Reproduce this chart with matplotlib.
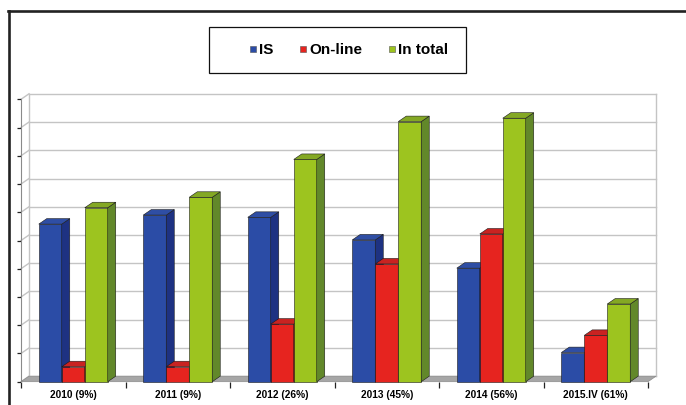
import matplotlib.pyplot as plt
from matplotlib.patches import Polygon, Rectangle
from matplotlib.lines import Line2D

# values, in gridline units (axis has no numbers)
categories = ["2010 (9%)", "2011 (9%)", "2012 (26%)", "2013 (45%)", "2014 (56%)", "2015.IV (61%)"]
series_names = ["IS", "On-line", "In total"]
is_vals = [5.58, 5.90, 5.82, 5.02, 4.02, 1.03]
online_vals = [0.53, 0.53, 2.04, 4.17, 5.23, 1.64]
total_vals = [6.16, 6.53, 7.87, 9.21, 9.33, 2.75]

# front / side / top shades
colors = [
    ("#2b4ca6", "#1e3282", "#2f4ea4"),
    ("#e6241f", "#a81b1b", "#c92321"),
    ("#9dc41f", "#62882a", "#84a824"),
]

W, H = 686, 405
fig = plt.figure(figsize=(W / 100, H / 100), dpi=100)
fig.patch.set_facecolor("white")

# front plane of the 3d box in pixels
x0, x1 = 21, 648
y0, y1 = 381.7, 99.3
ax = fig.add_axes([x0 / W, 1 - y0 / H, (x1 - x0) / W, (y0 - y1) / H])
ax.set_xlim(0, 6)
ax.set_ylim(0, 10)
ax.set_facecolor("none")

# depth offset in data units
dx = 8 / ((x1 - x0) / 6)
dy = 5.5 / ((y0 - y1) / 10)

grid_c = "#c4c4c4"
for v in range(0, 11):
    ax.plot([dx, 6 + dx], [v + dy, v + dy], color=grid_c, lw=1.0, clip_on=False, zorder=1)
    ax.plot([0, dx], [v, v + dy], color=grid_c, lw=1.0, clip_on=False, zorder=1)
ax.plot([dx, dx], [dy, 10 + dy], color=grid_c, lw=1.0, clip_on=False, zorder=1)
ax.plot([6 + dx, 6 + dx], [dy, 10 + dy], color=grid_c, lw=1.0, clip_on=False, zorder=1)

# floor
ax.add_patch(Polygon([(0, 0), (6, 0), (6 + dx, dy), (dx, dy)], closed=True,
                     facecolor="#a6a6a6", edgecolor="#8c8c8c", lw=0.5, clip_on=False, zorder=2))

# bars
bw = 0.22
all_vals = [is_vals, online_vals, total_vals]
for i in range(len(categories)):
    for j, vals in enumerate(all_vals):
        h = vals[i]
        left = i + 0.5 - 1.5 * bw + j * bw
        right = left + bw
        front, side, top = colors[j]
        kw = dict(closed=True, edgecolor="#1a1a1a", lw=0.4, clip_on=False, zorder=3)
        ax.add_patch(Polygon([(left, 0), (right, 0), (right, h), (left, h)], facecolor=front, **kw))
        ax.add_patch(Polygon([(right, 0), (right + dx, dy), (right + dx, h + dy), (right, h)],
                             facecolor=side, **kw))
        ax.add_patch(Polygon([(left, h), (right, h), (right + dx, h + dy), (left + dx, h + dy)],
                             facecolor=top, **kw))

# axes
for s in ["top", "right", "bottom"]:
    ax.spines[s].set_visible(False)
ax.spines["left"].set_color("#8a8a8a")
ax.spines["left"].set_linewidth(0.8)
ax.set_yticks(range(0, 11))
ax.set_yticklabels([])
ax.tick_params(axis="y", direction="out", length=3, width=0.9, color="#222222")
ax.set_xticks(range(0, 7))
ax.set_xticklabels([])
ax.tick_params(axis="x", which="major", direction="out", length=4, width=0.9, color="#222222")
ax.set_xticks([i + 0.5 for i in range(6)], minor=True)
ax.set_xticklabels(categories, minor=True, fontsize=7.3, fontweight="bold", family="Liberation Sans")
ax.tick_params(axis="x", which="minor", length=0, pad=6)

# legend
handles = [Line2D([], [], marker="s", ls="none", markersize=4, markerfacecolor=c[0],
                  markeredgecolor="#555555", markeredgewidth=0.4) for c in colors]
fig.legend(handles, series_names, loc="center left", bbox_to_anchor=(249.5 / W, 1 - 50 / H),
           ncol=3, frameon=False, prop={"family": "Liberation Sans", "weight": "bold", "size": 11},
           handlelength=0.4, handletextpad=0.2, columnspacing=1.75, borderpad=0, borderaxespad=0)
fig.add_artist(Rectangle((209 / W, 1 - 72.5 / H), 257 / W, 45.5 / H, transform=fig.transFigure,
                         fill=False, edgecolor="#111111", lw=0.9))

# outer frame
fig.add_artist(Line2D([8.5 / W, 8.5 / W], [0, 1 - 10.5 / H], transform=fig.transFigure,
                      color="#222222", lw=1.9))
fig.add_artist(Line2D([7.5 / W, 1], [1 - 10.5 / H, 1 - 10.5 / H], transform=fig.transFigure,
                      color="#222222", lw=1.9))

fig.savefig("out.png", dpi=100)
